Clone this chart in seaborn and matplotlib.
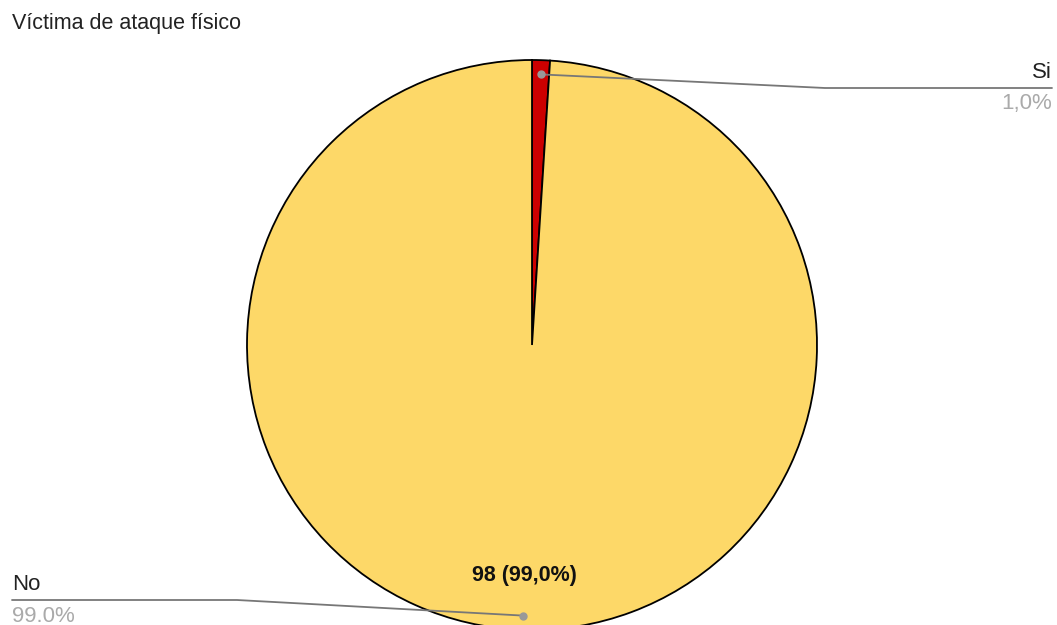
import matplotlib
matplotlib.use("Agg")
import matplotlib.pyplot as plt
import numpy as np
import seaborn as sns

categories = ["Si", "No"]
counts = [1, 98]
pct_labels = ["1,0%", "99.0%"]
inner_label = "98 (99,0%)"
colors = ["#cc0000", "#fdd868"]

sns.set_theme(style="white")
plt.rcParams['font.family'] = ['Liberation Sans', 'DejaVu Sans']

W, H = 1057, 625
fig = plt.figure(figsize=(W / 100, H / 100), dpi=100)

# pie geometry in pixels
cx, cy, r = 532, 345, 285
ax = fig.add_axes([(cx - r) / W, (H - cy - r) / H, 2 * r / W, 2 * r / H])
wedges, _ = ax.pie(counts, colors=colors, startangle=90, counterclock=False,
                   radius=1, wedgeprops=dict(edgecolor="black", linewidth=1.3))
for w in wedges:
    w.set_clip_on(False)
ax.set_xlim(-1, 1)
ax.set_ylim(-1, 1)
ax.set_aspect("equal")
ax.axis("off")

# overlay in pixel coordinates for title, labels, leader lines
ov = fig.add_axes([0, 0, 1, 1], zorder=5)
ov.set_xlim(0, W)
ov.set_ylim(H, 0)
ov.axis("off")
ov.patch.set_alpha(0)

ov.text(12, 23, "Víctima de ataque físico", fontsize=15.5, color="#222222",
        va="center", ha="left")

total = sum(counts)
start = 90.0
mids = []
for c in counts:
    span = 360.0 * c / total
    mids.append(np.deg2rad(start - span / 2))
    start -= span

def pt(ang, rr):
    return cx + r * rr * np.cos(ang), cy - r * rr * np.sin(ang)

# Si label (top right)
x0, y0 = pt(mids[0], 0.95)
ov.plot([x0, 825, 1052], [y0, 88, 88], color="#777777", lw=1.3)
ov.plot([x0], [y0], "o", color="#999999", ms=5)
ov.text(1052, 73, categories[0], fontsize=16, color="#222222", ha="right", va="center")
ov.text(1052, 104, pct_labels[0], fontsize=16, color="#aaaaaa", ha="right", va="center")

# No label (bottom left)
x1, y1 = pt(mids[1], 0.95)
ov.plot([x1, 237, 12], [y1, 600, 600], color="#777777", lw=1.3)
ov.plot([x1], [y1], "o", color="#999999", ms=5)
ov.text(12, 585, categories[1], fontsize=16, color="#222222", ha="left", va="center")
ov.text(12, 616, pct_labels[1], fontsize=16, color="#aaaaaa", ha="left", va="center")

# inside label
xi, yi = pt(mids[1], 0.81)
ov.text(xi, yi, inner_label, fontsize=15.5, fontweight="bold", color="#111111",
        ha="center", va="center")

fig.savefig("out.png", dpi=100)
